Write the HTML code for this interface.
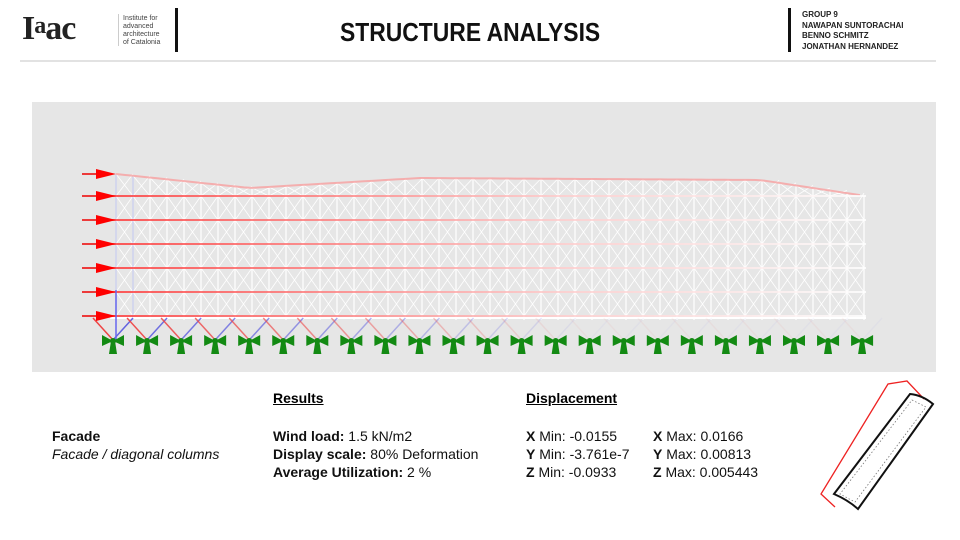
<!DOCTYPE html><html><head><meta charset="utf-8"><style>
body{margin:0;width:960px;height:540px;background:#fff;font-family:"Liberation Sans",sans-serif;position:relative;overflow:hidden}
.a{position:absolute;white-space:nowrap}
</style></head><body>
<div class="a" style="left:22px;top:10px;font-family:'Liberation Serif',serif;font-weight:bold;font-size:34px;letter-spacing:-1px;color:#222">I<span style="font-size:24px;vertical-align:6px">a</span>ac</div>
<div class="a" style="left:118px;top:14px;width:1px;height:32px;background:#ccc"></div>
<div class="a" style="left:123px;top:15px;font-size:7px;line-height:8px;color:#444">Institute for<br>advanced<br>architecture<br>of Catalonia</div>
<div class="a" style="left:175px;top:8px;width:3px;height:44px;background:#111"></div>
<div class="a" style="left:340px;top:17px;font-size:26px;font-weight:bold;color:#111;transform:scaleX(.88);transform-origin:left">STRUCTURE ANALYSIS</div>
<div class="a" style="left:788px;top:8px;width:3px;height:44px;background:#111"></div>
<div class="a" style="left:802px;top:10px;font-size:8px;line-height:10.5px;font-weight:bold;color:#222">GROUP 9<br>NAWAPAN SUNTORACHAI<br>BENNO SCHMITZ<br>JONATHAN HERNANDEZ</div>
<div class="a" style="left:20px;top:60px;width:916px;height:2px;background:#e2e2e2"></div>
<div class="a" style="left:32px;top:102px;width:904px;height:270px;background:#e6e6e6"></div>
<svg class="a" style="left:0;top:0" width="960" height="540" id="s"></svg>
<div class="a" style="left:52px;top:428px;font-size:14px;font-weight:bold;color:#111">Facade</div>
<div class="a" style="left:52px;top:446px;font-size:14px;font-style:italic;color:#111">Facade / diagonal columns</div>
<div class="a" style="left:273px;top:390px;font-size:14px;font-weight:bold;text-decoration:underline">Results</div>
<div class="a" style="left:273px;top:427px;font-size:14px;line-height:18px;color:#111"><b>Wind load:</b> 1.5 kN/m2<br><b>Display scale:</b> 80% Deformation<br><b>Average Utilization:</b> 2 %</div>
<div class="a" style="left:526px;top:390px;font-size:14px;font-weight:bold;text-decoration:underline">Displacement</div>
<div class="a" style="left:526px;top:427px;font-size:14px;line-height:18px;color:#111"><b>X</b> Min: -0.0155<br><b>Y</b> Min: -3.761e-7<br><b>Z</b> Min: -0.0933</div>
<div class="a" style="left:653px;top:427px;font-size:14px;line-height:18px;color:#111"><b>X</b> Max: 0.0166<br><b>Y</b> Max: 0.00813<br><b>Z</b> Max: 0.005443</div>
<svg class="a" style="left:800px;top:370px" width="160" height="150">
<polyline points="124,29 107,11 88,14 21,124 35,137" fill="none" stroke="#e22" stroke-width="1.3"/>
<path d="M110,24 Q122,25 133,34 L58,139 Q48,130 34,124 Z" fill="none" stroke="#111" stroke-width="2"/>
<path d="M112,30 L126,37 L55,132 L40,124 Z" fill="none" stroke="#777" stroke-width=".8" stroke-dasharray="1.5,2"/>
</svg>
<script>
var s=document.getElementById('s'),h='';
function ty(x){var pts=[[116,174],[250,188],[420,178],[760,180],[866,196]];for(var i=0;i<pts.length-1;i++){var a=pts[i],b=pts[i+1];if(x<=b[0])return a[1]+(b[1]-a[1])*(x-a[0])/(b[0]-a[0]);}return 196;}
var rows=[196,220,244,268,292,316];
for(var x=116;x<=866;x+=17){
 var t=ty(x);var c=x<140?'#c8cdf0':'#fff';
 h+='<line x1="'+x+'" y1="'+t+'" x2="'+x+'" y2="320" stroke="'+c+'" stroke-width="1.2"/>';
 if(x+17<=866){var ys=[t].concat(rows.filter(function(r){return r>t+3;}));
  for(var i=0;i<ys.length-1;i++){h+='<line x1="'+x+'" y1="'+ys[i]+'" x2="'+(x+17)+'" y2="'+ys[i+1]+'" stroke="#fff" stroke-width="0.8"/><line x1="'+(x+17)+'" y1="'+ys[i]+'" x2="'+x+'" y2="'+ys[i+1]+'" stroke="#fff" stroke-width="0.8"/>';}}
}
var d='M116,174';for(var x=116;x<=866;x+=8)d+=' L'+x+','+ty(x);
h+='<path d="'+d+'" fill="none" stroke="#f7a0a0" stroke-width="2" opacity=".8"/>';
h+='<defs><linearGradient id="g" x1="0" x2="1"><stop offset="0" stop-color="#f33"/><stop offset=".6" stop-color="#fcc"/><stop offset="1" stop-color="#fff"/></linearGradient></defs>';
rows.forEach(function(r){h+='<rect x="110" y="'+(r-1)+'" width="756" height="2" fill="url(#g)" opacity=".8"/>';});
h+='<line x1="110" y1="318" x2="866" y2="318" stroke="#fff" stroke-width="2"/>';
for(var k=0;k<23;k++){var x=113+k*34.05;var op=Math.max(0.05,1-k*0.07);
 h+='<line x1="'+x+'" y1="340" x2="'+(x-20)+'" y2="318" stroke="#e44" stroke-opacity="'+op+'" stroke-width="1.5"/>';
 h+='<line x1="'+x+'" y1="340" x2="'+(x+20)+'" y2="318" stroke="#44d" stroke-opacity="'+(op*0.8)+'" stroke-width="1.5"/>';}
h+='<line x1="116" y1="290" x2="116" y2="340" stroke="#66e" stroke-width="1.5"/>';
[174,196,220,244,268,292,316].forEach(function(y){h+='<line x1="82" y1="'+y+'" x2="104" y2="'+y+'" stroke="#e00" stroke-width="1.5"/><polygon points="96,'+(y-5)+' 116,'+y+' 96,'+(y+5)+'" fill="#f00"/>';});
for(var k=0;k<23;k++){var x=113+k*34.05;
 h+='<g fill="#138a13"><polygon points="'+(x-11)+',335 '+(x-11)+',346 '+x+',341"/><polygon points="'+(x+11)+',335 '+(x+11)+',346 '+x+',341"/><polygon points="'+(x-4)+',354 '+(x+4)+',354 '+(x+2)+',341 '+(x-2)+',341"/><circle cx="'+x+'" cy="341" r="3"/></g>';}
s.innerHTML=h;
</script>
</body></html>
